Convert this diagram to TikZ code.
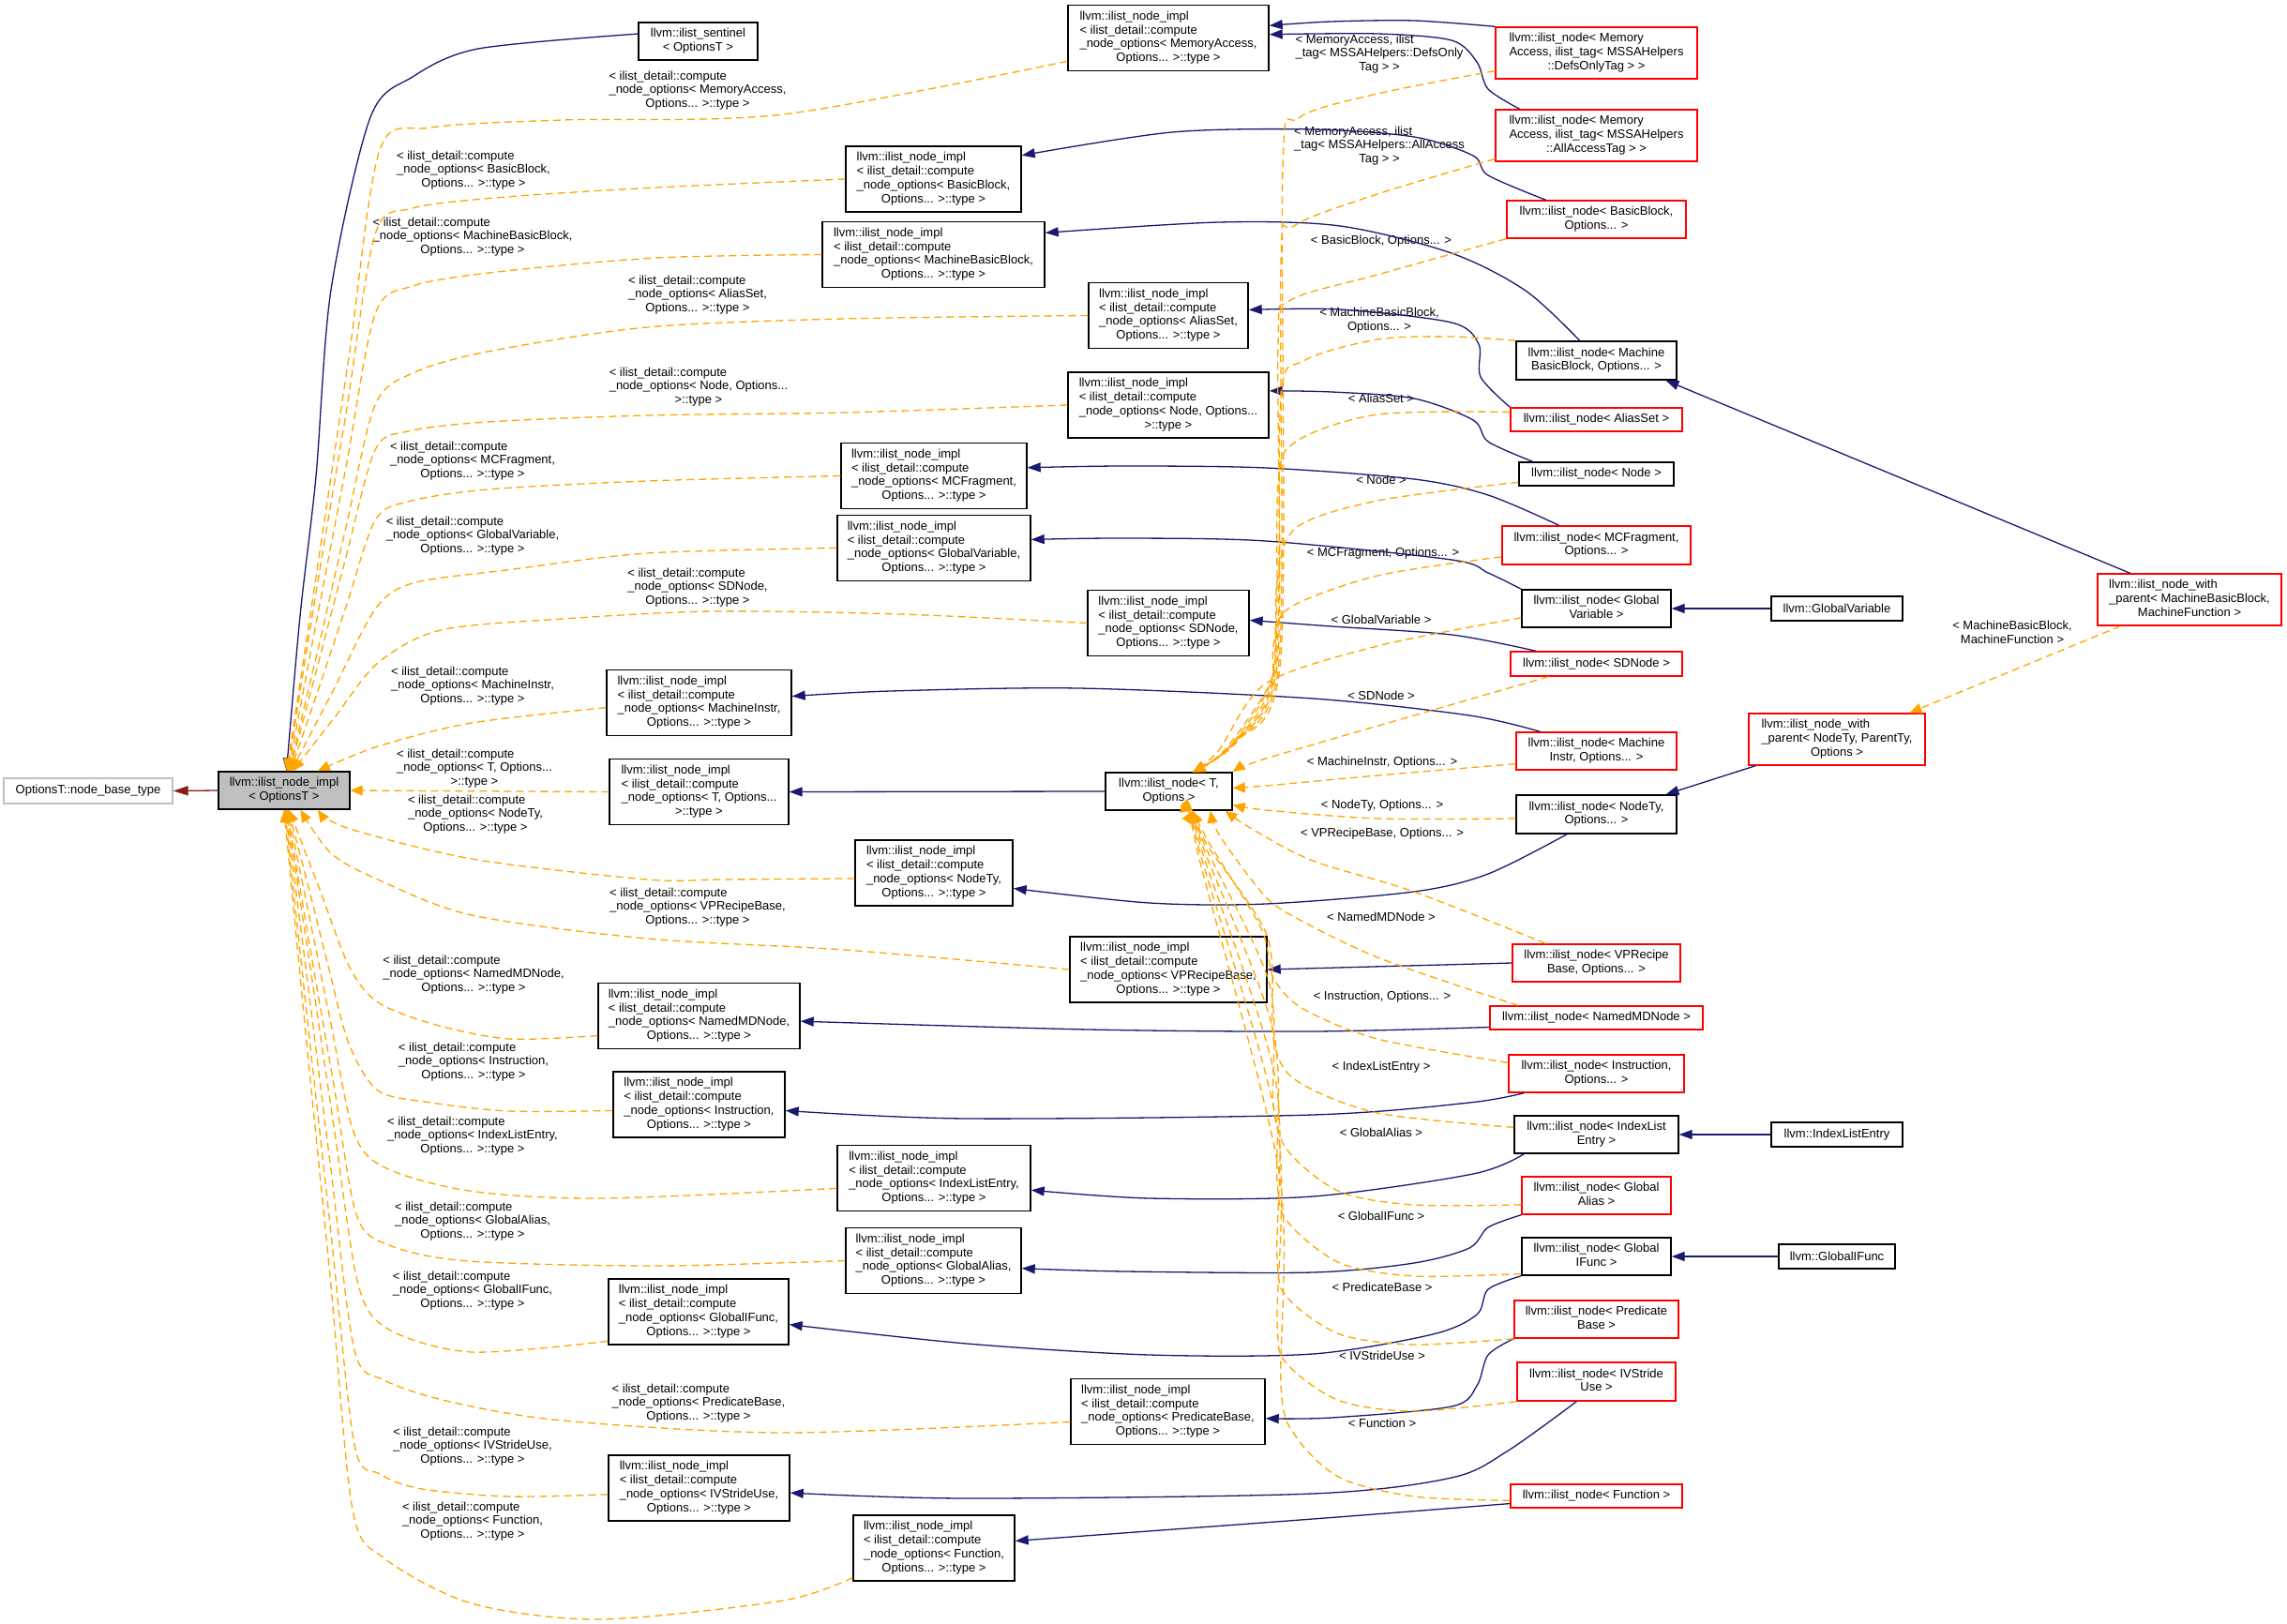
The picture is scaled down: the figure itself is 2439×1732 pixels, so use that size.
\documentclass[tikz,border=0pt]{standalone}
\usepackage{fontspec}
\setmainfont{Liberation Sans}
\usepackage{tikz}
\usetikzlibrary{arrows.meta}

\definecolor{inhblue}{HTML}{191970}
\definecolor{tplorange}{HTML}{FFA500}
\definecolor{privred}{HTML}{8B1A1A}
\definecolor{boxgray}{HTML}{BFBFBF}
\definecolor{framegray}{HTML}{BFBFBF}

\newcommand{\dlbl}[2]{\begin{tabular}{@{}l@{}}#1\\\multicolumn{1}{@{}c@{}}{#2}\end{tabular}}
\newcommand{\impltxt}[2]{\dlbl{llvm::ilist\_node\_impl\\< ilist\_detail::compute\\\_node\_options< #1}{#2}}
\newcommand{\cmptxt}[2]{\dlbl{< ilist\_detail::compute\\\_node\_options< #1}{#2}}

\begin{document}
\begin{tikzpicture}[x=0.5pt, y=-0.5pt,
  every node/.style={font=\fontsize{6.5}{7.4}\selectfont, inner sep=0pt},
  sz/.style 2 args={minimum width=#1pt, minimum height=#2pt},
  blk/.style={draw=black, line width=0.7pt},
  redbox/.style={draw=red, line width=0.7pt},
  inh/.style={draw=inhblue, line width=0.65pt, -{Triangle[length=7pt,width=5pt]}},
  tpl/.style={draw=tplorange, line width=0.65pt, dash pattern=on 4pt off 2.5pt, -{Triangle[length=6.5pt,width=5.5pt]}},
  privinh/.style={draw=privred, line width=0.65pt, -{Triangle[length=8pt,width=5pt]}},
]
\useasboundingbox (0,0) rectangle (2439,1732);

% base side
\node[draw=framegray, line width=0.7pt, sz={90}{13.5}] (nodeBase) at (94,843.5) {OptionsT::node\_base\_type};
\node[blk, fill=boxgray, sz={70}{20}] (implT) at (303,843) {\dlbl{llvm::ilist\_node\_impl}{< OptionsT >}};
\node[blk, sz={63.5}{20}] (sentinel) at (744.5,44) {\dlbl{llvm::ilist\_sentinel}{< OptionsT >}};

% ilist_node_impl instances
\node[blk, sz={107}{35}] (maImpl) at (1246,40.5) {\impltxt{MemoryAccess,}{Options... >::type >}};
\node[blk, sz={93.5}{35}] (bbImpl) at (995.5,191) {\impltxt{BasicBlock,}{Options... >::type >}};
\node[blk, sz={118.5}{35}] (mbbImpl) at (995.5,271.5) {\impltxt{MachineBasicBlock,}{Options... >::type >}};
\node[blk, sz={85}{35}] (asImpl) at (1246,336.5) {\impltxt{AliasSet,}{Options... >::type >}};
\node[blk, sz={107}{35}] (ndImpl) at (1246,432) {\impltxt{Node, Options...}{>::type >}};
\node[blk, sz={99}{35}] (mcfImpl) at (996,507.5) {\impltxt{MCFragment,}{Options... >::type >}};
\node[blk, sz={103}{35}] (gvImpl) at (996,584.5) {\impltxt{GlobalVariable,}{Options... >::type >}};
\node[blk, sz={86}{35}] (sdImpl) at (1246,664.5) {\impltxt{SDNode,}{Options... >::type >}};
\node[blk, sz={98.5}{35}] (miImpl) at (745.5,749.5) {\impltxt{MachineInstr,}{Options... >::type >}};
\node[blk, sz={95.5}{35}] (tImpl) at (745.5,844.5) {\impltxt{T, Options...}{>::type >}};
\node[blk, sz={84}{35}] (ntImpl) at (996,931) {\impltxt{NodeTy,}{Options... >::type >}};
\node[blk, sz={105}{35}] (vpImpl) at (1246,1034) {\impltxt{VPRecipeBase,}{Options... >::type >}};
\node[blk, sz={107.5}{35}] (nmdImpl) at (745.5,1083.5) {\impltxt{NamedMDNode,}{Options... >::type >}};
\node[blk, sz={91.5}{35}] (inImpl) at (745.5,1178) {\impltxt{Instruction,}{Options... >::type >}};
\node[blk, sz={103}{35}] (ileImpl) at (996,1256.5) {\impltxt{IndexListEntry,}{Options... >::type >}};
\node[blk, sz={93.5}{35}] (gaImpl) at (995.5,1344.5) {\impltxt{GlobalAlias,}{Options... >::type >}};
\node[blk, sz={96}{35}] (gifImpl) at (745,1399) {\impltxt{GlobalIFunc,}{Options... >::type >}};
\node[blk, sz={103.5}{35}] (pbImpl) at (1245.5,1505.5) {\impltxt{PredicateBase,}{Options... >::type >}};
\node[blk, sz={96.5}{35}] (ivsImpl) at (745.5,1587) {\impltxt{IVStrideUse,}{Options... >::type >}};
\node[blk, sz={86}{35}] (fnImpl) at (996,1651) {\impltxt{Function,}{Options... >::type >}};

\node[blk, sz={67.5}{20}] (tNode) at (1246.5,844) {\dlbl{llvm::ilist\_node< T,}{Options >}};

% ilist_node instances
\node[redbox, sz={107.5}{27.5}] (maDefs) at (1702.5,56.5) {\dlbl{llvm::ilist\_node< Memory\\Access, ilist\_tag< MSSAHelpers}{::DefsOnlyTag > >}};
\node[redbox, sz={107.5}{27.5}] (maAll) at (1702.5,144.5) {\dlbl{llvm::ilist\_node< Memory\\Access, ilist\_tag< MSSAHelpers}{::AllAccessTag > >}};
\node[redbox, sz={95.5}{20}] (bbNode) at (1702.5,234) {\dlbl{llvm::ilist\_node< BasicBlock,}{Options... >}};
\node[blk, sz={85.5}{20.5}] (mbbNode) at (1702.5,384.5) {\dlbl{llvm::ilist\_node< Machine}{BasicBlock, Options... >}};
\node[redbox, sz={91.5}{12.5}] (asNode) at (1702.5,447.5) {llvm::ilist\_node< AliasSet >};
\node[blk, sz={82.5}{12.5}] (ndNode) at (1702.5,505.5) {llvm::ilist\_node< Node >};
\node[redbox, sz={100.5}{20.5}] (mcfNode) at (1702.5,581.5) {\dlbl{llvm::ilist\_node< MCFragment,}{Options... >}};
\node[blk, sz={79.5}{20}] (gvNode) at (1702.5,649) {\dlbl{llvm::ilist\_node< Global}{Variable >}};
\node[redbox, sz={91.5}{13}] (sdNode) at (1702.5,708) {llvm::ilist\_node< SDNode >};
\node[redbox, sz={85.5}{20}] (miNode) at (1702.5,801) {\dlbl{llvm::ilist\_node< Machine}{Instr, Options... >}};
\node[blk, sz={85.5}{20.5}] (ntNode) at (1702.5,868.5) {\dlbl{llvm::ilist\_node< NodeTy,}{Options... >}};
\node[redbox, sz={89.5}{20}] (vpNode) at (1702.5,1027) {\dlbl{llvm::ilist\_node< VPRecipe}{Base, Options... >}};
\node[redbox, sz={113.5}{12.5}] (nmdNode) at (1702.5,1085.5) {llvm::ilist\_node< NamedMDNode >};
\node[redbox, sz={93.5}{20}] (inNode) at (1702.5,1145) {\dlbl{llvm::ilist\_node< Instruction,}{Options... >}};
\node[blk, sz={87.5}{20}] (ileNode) at (1702.5,1210) {\dlbl{llvm::ilist\_node< IndexList}{Entry >}};
\node[redbox, sz={79.5}{20}] (gaNode) at (1702.5,1275) {\dlbl{llvm::ilist\_node< Global}{Alias >}};
\node[blk, sz={79.5}{20}] (gifNode) at (1702.5,1340) {\dlbl{llvm::ilist\_node< Global}{IFunc >}};
\node[redbox, sz={87.5}{20}] (pbNode) at (1702.5,1407) {\dlbl{llvm::ilist\_node< Predicate}{Base >}};
\node[redbox, sz={84.5}{20.5}] (ivsNode) at (1702.5,1473.5) {\dlbl{llvm::ilist\_node< IVStride}{Use >}};
\node[redbox, sz={91.5}{12.5}] (fnNode) at (1702.5,1595.5) {llvm::ilist\_node< Function >};

% far right
\node[blk, sz={70}{13}] (gvClass) at (1959,649) {llvm::GlobalVariable};
\node[blk, sz={70}{13}] (ileClass) at (1959,1210) {llvm::IndexListEntry};
\node[blk, sz={62}{13}] (gifClass) at (1959,1340) {llvm::GlobalIFunc};
\node[redbox, sz={94}{27.5}] (ntWp) at (1959,788.5) {\dlbl{llvm::ilist\_node\_with\\\_parent< NodeTy, ParentTy,}{Options >}};
\node[redbox, sz={98}{27.5}] (mbbWp) at (2335,639.5) {\dlbl{llvm::ilist\_node\_with\\\_parent< MachineBasicBlock,}{MachineFunction >}};

% labels, left fan
\node (cMA) at (744,97) {\cmptxt{MemoryAccess,}{Options... >::type >}};
\node (cBB) at (505,182) {\cmptxt{BasicBlock,}{Options... >::type >}};
\node (cMBB) at (504,253) {\cmptxt{MachineBasicBlock,}{Options... >::type >}};
\node (cAS) at (744,315) {\cmptxt{AliasSet,}{Options... >::type >}};
\node (cNd) at (745,413) {\cmptxt{Node, Options...}{>::type >}};
\node (cMCF) at (504,492) {\cmptxt{MCFragment,}{Options... >::type >}};
\node (cGV) at (504,572) {\cmptxt{GlobalVariable,}{Options... >::type >}};
\node (cSD) at (744,627) {\cmptxt{SDNode,}{Options... >::type >}};
\node (cMI) at (504,732) {\cmptxt{MachineInstr,}{Options... >::type >}};
\node (cT) at (506,820) {\cmptxt{T, Options...}{>::type >}};
\node (cNT) at (507,869) {\cmptxt{NodeTy,}{Options... >::type >}};
\node (cVP) at (744,968) {\cmptxt{VPRecipeBase,}{Options... >::type >}};
\node (cNMD) at (505,1040) {\cmptxt{NamedMDNode,}{Options... >::type >}};
\node (cIn) at (505,1133) {\cmptxt{Instruction,}{Options... >::type >}};
\node (cILE) at (504,1212) {\cmptxt{IndexListEntry,}{Options... >::type >}};
\node (cGA) at (504,1303) {\cmptxt{GlobalAlias,}{Options... >::type >}};
\node (cGIF) at (504,1377) {\cmptxt{GlobalIFunc,}{Options... >::type >}};
\node (cPB) at (745,1497) {\cmptxt{PredicateBase,}{Options... >::type >}};
\node (cIVS) at (504,1543) {\cmptxt{IVStrideUse,}{Options... >::type >}};
\node (cFn) at (504,1623) {\cmptxt{Function,}{Options... >::type >}};

% labels, right fan
\node (lDefs) at (1471,58) {\dlbl{< MemoryAccess, ilist\\\_tag< MSSAHelpers::DefsOnly}{Tag > >}};
\node (lAll) at (1471,156) {\dlbl{< MemoryAccess, ilist\\\_tag< MSSAHelpers::AllAccess}{Tag > >}};
\node (lBB) at (1473,257) {< BasicBlock, Options... >};
\node (lMBB) at (1471,342) {\dlbl{< MachineBasicBlock,}{Options... >}};
\node (lAS) at (1473,425) {< AliasSet >};
\node (lNd) at (1473,512) {< Node >};
\node (lMCF) at (1475,590) {< MCFragment, Options... >};
\node (lGV) at (1473,661) {< GlobalVariable >};
\node (lSD) at (1473,742) {< SDNode >};
\node (lMI) at (1474,813) {< MachineInstr, Options... >};
\node (lNT) at (1474,859) {< NodeTy, Options... >};
\node (lVP) at (1474,889) {< VPRecipeBase, Options... >};
\node (lNMD) at (1473,978) {< NamedMDNode >};
\node (lIn) at (1474,1063) {< Instruction, Options... >};
\node (lILE) at (1473,1138) {< IndexListEntry >};
\node (lGA) at (1473,1208) {< GlobalAlias >};
\node (lGIF) at (1473,1297) {< GlobalIFunc >};
\node (lPB) at (1474,1373) {< PredicateBase >};
\node (lIVS) at (1474,1446) {< IVStrideUse >};
\node (lFn) at (1474,1518) {< Function >};
\node (lWp) at (2146,676) {\dlbl{< MachineBasicBlock,}{MachineFunction >}};

% inheritance
\draw[privinh] (implT.west) -- (nodeBase.east);
\draw[inh] plot[smooth] coordinates {(sentinel.173) (510,52) (440,82) (395,125) (353,309) (337,508) (320,657) (implT.83)};
\draw[inh] plot[smooth] coordinates {(maDefs.north west) (1508,22) (1420,23) (maImpl.7)};
\draw[inh] plot[smooth] coordinates {(maAll.161) (1587,95) (1575,66) (1548,43) (1469,36) (maImpl.2)};
\draw[inh] plot[smooth] coordinates {(bbNode.159) (1587,187) (1571,166) (1508,146) (1400,138) (1250,141) (bbImpl.15)};
\draw[inh] plot[smooth] coordinates {(mbbNode.130) (1627,310) (1548,270) (1429,241) (1300,237) (mbbImpl.11)};
\draw[inh] plot[smooth] coordinates {(asNode.north west) (1579,402) (1577,367) (1548,344) (1429,330) (asImpl.4)};
\draw[inh] plot[smooth] coordinates {(ndNode.169) (1587,471) (1571,448) (1508,425) (1420,418) (ndImpl.8)};
\draw[inh] plot[smooth] coordinates {(mcfNode.152) (1587,528) (1508,511) (1350,499) (1200,497) (mcfImpl.5)};
\draw[inh] plot[smooth] coordinates {(gvNode.north west) (1587,611) (1548,597) (1350,577) (1200,574) (gvImpl.5)};
\draw[inh] plot[smooth] coordinates {(sdNode.168) (1548,677) (1420,668) (sdImpl.2)};
\draw[inh] plot[smooth] coordinates {(miNode.161) (1567,763) (1400,745) (1150,734) (950,737) (miImpl.4)};
\draw[inh] (tNode.west) -- (tImpl.east);
\draw[inh] plot[smooth] coordinates {(ntNode.214) (1587,932) (1508,951) (1350,964) (1226,963) (ntImpl.-11)};
\draw[inh] (vpNode.west) -- (vpImpl.east);
\draw[inh] plot[smooth] coordinates {(nmdNode.185) (1400,1100) (1161,1098) (nmdImpl.-3)};
\draw[inh] plot[smooth] coordinates {(inNode.195) (1567,1176) (1400,1189) (1031,1193) (inImpl.-4)};
\draw[inh] plot[smooth] coordinates {(ileNode.195) (1571,1252) (1400,1276) (1226,1278) (ileImpl.-7)};
\draw[inh] plot[smooth] coordinates {(gaNode.south west) (1587,1309) (1567,1331) (1508,1347) (1400,1357) (1200,1356) (gaImpl.-5)};
\draw[inh] plot[smooth] coordinates {(gifNode.south west) (1587,1375) (1575,1402) (1528,1423) (1400,1444) (1226,1445) (1031,1433) (gifImpl.-8)};
\draw[inh] plot[smooth] coordinates {(pbNode.south west) (1587,1445) (1575,1478) (1548,1500) (1420,1512) (pbImpl.-4)};
\draw[inh] plot[smooth] coordinates {(ivsNode.225) (1607,1548) (1548,1576) (1400,1593) (1031,1598) (ivsImpl.-3)};
\draw[inh] plot[smooth] coordinates {(fnNode.185) (1400,1620) (fnImpl.5)};
\foreach \a/\b in {gvClass/gvNode, ileClass/ileNode, gifClass/gifNode}
  \draw[inh] (\a.west) -- (\b.east);
\draw[inh] (ntWp.198) -- (ntNode.16);
\draw[inh] (mbbWp.156) -- (mbbNode.-16);

% template instances, left fan
\draw[tpl] plot[smooth] coordinates {(maImpl.193) (835,122) (600,128) (460,136) (405,160) (372,381) (339,602) (implT.82)};
\draw[tpl] plot[smooth] coordinates {(bbImpl.west) (700,200) (540,210) (440,222) (400,250) (369,441) (337,632) (implT.80)};
\draw[tpl] plot[smooth] coordinates {(mbbImpl.west) (700,275) (530,290) (440,305) (400,335) (369,498) (338,660) (implT.78)};
\draw[tpl] plot[smooth] coordinates {(asImpl.west) (900,340) (690,349) (520,375) (440,398) (400,432) (369,562) (339,693) (implT.76)};
\draw[tpl] plot[smooth] coordinates {(ndImpl.west) (900,440) (690,443) (520,450) (435,460) (400,480) (369,594) (339,709) (implT.74)};
\draw[tpl] plot[smooth] coordinates {(mcfImpl.west) (690,513) (520,522) (435,535) (400,555) (370,644) (340,734) (implT.72)};
\draw[tpl] plot[smooth] coordinates {(gvImpl.west) (690,590) (540,608) (440,622) (400,650) (355,737) (implT.70)};
\draw[tpl] plot[smooth] coordinates {(sdImpl.west) (960,655) (760,652) (600,660) (470,672) (403,707) (357,765) (implT.66)};
\draw[tpl] plot[smooth] coordinates {(miImpl.183) (503,771) (403,796) (implT.30)};
\draw[tpl] (tImpl.west) -- (implT.east);
\draw[tpl] plot[smooth] coordinates {(ntImpl.184) (770,938) (690,938) (503,916) (370,883) (implT.-30)};
\draw[tpl] plot[smooth] coordinates {(vpImpl.west) (900,1013) (690,1001) (503,976) (403,938) (353,910) (implT.-50)};
\draw[tpl] plot[smooth] coordinates {(nmdImpl.191) (543,1108) (465,1093) (403,1069) (372,1030) (340,946) (implT.-76)};
\draw[tpl] plot[smooth] coordinates {(inImpl.184) (543,1185) (460,1176) (403,1163) (372,1113) (350,1030) (329,946) (implT.-78)};
\draw[tpl] plot[smooth] coordinates {(ileImpl.186) (640,1278) (500,1270) (410,1245) (377,1207) (353,1092) (330,978) (implT.-80)};
\draw[tpl] plot[smooth] coordinates {(gaImpl.west) (700,1350) (500,1345) (415,1328) (380,1295) (355,1151) (330,1007) (implT.-82)};
\draw[tpl] plot[smooth] coordinates {(gifImpl.198) (503,1442) (415,1418) (382,1370) (356,1201) (331,1032) (implT.-84)};
\draw[tpl] plot[smooth] coordinates {(pbImpl.186) (835,1528) (600,1515) (480,1495) (410,1472) (378,1440) (353,1248) (329,1055) (implT.-86)};
\draw[tpl] plot[smooth] coordinates {(ivsImpl.184) (543,1596) (450,1588) (405,1572) (378,1541) (353,1315) (328,1089) (implT.-88)};
\draw[tpl] plot[smooth] coordinates {(fnImpl.200) (835,1707) (640,1727) (503,1710) (410,1662) (376,1610) (352,1361) (327,1112) (implT.-90)};

% template instances, right fan
\draw[tpl] plot[smooth] coordinates {(maDefs.190) (1469,100) (1385,126) (1368,180) (1366,700) (1320,790) (tNode.39)};
\draw[tpl] plot[smooth] coordinates {(maAll.193) (1469,207) (1380,241) (1366,280) (1364,705) (1318,791) (tNode.39)};
\draw[tpl] plot[smooth] coordinates {(bbNode.south west) (1469,293) (1375,321) (1363,367) (1362,710) (1316,792) (tNode.39)};
\draw[tpl] plot[smooth] coordinates {(mbbNode.north west) (1548,359) (1469,362) (1390,385) (1366,425) (1360,715) (1314,794) (tNode.39)};
\draw[tpl] plot[smooth] coordinates {(asNode.175) (1469,442) (1382,471) (1363,517) (1358,720) (1312,796) (tNode.39)};
\draw[tpl] plot[smooth] coordinates {(ndNode.186) (1469,534) (1382,563) (1362,620) (1356,725) (1310,798) (tNode.39)};
\draw[tpl] plot[smooth] coordinates {(mcfNode.187) (1469,614) (1374,649) (1358,689) (1354,730) (1306,800) (tNode.39)};
\draw[tpl] plot[smooth] coordinates {(gvNode.187) (1469,689) (1350,729) (1300,800) (tNode.39)};
\draw[tpl] plot[smooth] coordinates {(sdNode.195) (1508,763) (1350,809) (tNode.north east)};
\draw[tpl] plot[smooth] coordinates {(miNode.189) (1469,827) (1350,838) (tNode.3)};
\draw[tpl] plot[smooth] coordinates {(ntNode.183) (1469,873) (1350,864) (tNode.-12)};
\draw[tpl] plot[smooth] coordinates {(vpNode.159) (1508,951) (1400,918) (1335,884) (tNode.-19)};
\draw[tpl] plot[smooth] coordinates {(nmdNode.171) (1469,1021) (1370,972) (1340,945) (1300,890) (tNode.-25)};
\draw[tpl] plot[smooth] coordinates {(inNode.173) (1469,1108) (1390,1076) (1358,1043) (1345,990) (1290,900) (tNode.-39)};
\draw[tpl] plot[smooth] coordinates {(ileNode.175) (1469,1187) (1382,1152) (1358,1108) (1352,1000) (1288,902) (tNode.-39)};
\draw[tpl] plot[smooth] coordinates {(gaNode.187) (1508,1285) (1429,1271) (1374,1228) (1358,1179) (1354,1050) (1286,904) (tNode.-39)};
\draw[tpl] plot[smooth] coordinates {(gifNode.193) (1508,1361) (1429,1347) (1374,1304) (1362,1260) (1358,1100) (1284,906) (tNode.-39)};
\draw[tpl] plot[smooth] coordinates {(pbNode.south west) (1508,1434) (1429,1423) (1374,1385) (1362,1342) (1360,1150) (1282,908) (tNode.-39)};
\draw[tpl] plot[smooth] coordinates {(ivsNode.south west) (1508,1505) (1429,1494) (1374,1456) (1362,1413) (1362,1200) (1280,910) (tNode.-39)};
\draw[tpl] plot[smooth] coordinates {(fnNode.183) (1508,1596) (1429,1576) (1382,1532) (1366,1478) (1364,1250) (1278,912) (tNode.-39)};
\draw[tpl] (mbbWp.201) -- (ntWp.20);

\end{tikzpicture}
\end{document}
